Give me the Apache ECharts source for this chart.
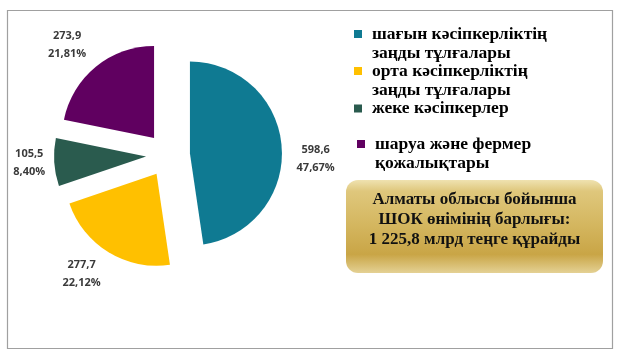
<!DOCTYPE html>
<html>
<head>
<meta charset="utf-8">
<script src="https://cdn.jsdelivr.net/npm/echarts@6/dist/echarts.min.js"></script>
<style>
html,body{margin:0;padding:0;background:#fff;}
#chart{width:622px;height:358px;}
</style>
</head>
<body>
<div id="chart"></div>
<script>
// ---- data ----
var categories = [
  'шағын кәсіпкерліктің\nзаңды тұлғалары',
  'орта кәсіпкерліктің\nзаңды тұлғалары',
  'жеке кәсіпкерлер',
  'шаруа және фермер\nқожалықтары'
];
var values = [598.6, 277.7, 105.5, 273.9];
var colors = ['#0f7a92', '#ffc000', '#2a5b4e', '#600060'];
var summaryText = 'Алматы облысы бойынша\nШОК өнімінің барлығы:\n1 225,8 млрд теңге құрайды';

// per-item label placement tuning (label line lengths, vertical nudge)
var labelTune = [
  {len: 8, len2: 7, dy: 13},
  {len: 25, len2: -5, dy: 0},
  {len: 5, len2: 1, dy: 0},
  {len: 28, len2: -8, dy: 0}
];

var chart = echarts.init(document.getElementById('chart'), null, {renderer: 'canvas'});

var pieData = categories.map(function (name, i) {
  return {
    name: name,
    value: values[i],
    selected: true,
    itemStyle: {color: colors[i]},
    labelLine: {length: labelTune[i].len, length2: labelTune[i].len2}
  };
});

// square marker (8px) with extra empty room: to the right (text gap) and,
// for two-line entries, below (so the square sits beside the first line)
var twoLineIcon = 'path://M0,0L8,0L8,8L0,8ZM0,27L13,27';
var oneLineIcon = 'path://M0,0L8,0L8,8L0,8ZM13,0L13,8';

function legendFor(i, top, left) {
  var twoLines = categories[i].indexOf('\n') >= 0;
  return {
    orient: 'vertical',
    left: left,
    top: top,
    padding: 0,
    icon: twoLines ? twoLineIcon : oneLineIcon,
    itemWidth: 13,
    itemHeight: twoLines ? 27 : 8,
    itemStyle: {borderWidth: 0},
    selectedMode: false,
    data: [categories[i]],
    textStyle: {
      fontFamily: 'Liberation Serif',
      fontWeight: 'bold',
      fontSize: 17.5,
      lineHeight: 19,
      color: '#000'
    }
  };
}

var labelFont = {
  fontFamily: 'Open Sans',
  fontWeight: 'bold',
  fontSize: 11,
  lineHeight: 18,
  color: '#3a3a3a',
  width: 38,
  align: 'center'
};

var option = {
  animation: false,
  backgroundColor: '#fff',
  legend: [
    legendFor(0, 24.5, 354),
    legendFor(1, 61.5, 354),
    legendFor(2, 99, 354),
    legendFor(3, 134.5, 357)
  ],
  graphic: [
    {
      type: 'rect',
      shape: {x: 7.5, y: 10.5, width: 605, height: 338},
      style: {fill: 'none', stroke: '#a0a0a0', lineWidth: 1.2},
      silent: true,
      z: -1
    },
    {
      type: 'rect',
      shape: {x: 346, y: 180, width: 257, height: 93, r: 12},
      style: {
        fill: new echarts.graphic.LinearGradient(0, 0, 0, 1, [
          {offset: 0, color: '#efe2b0'},
          {offset: 0.12, color: '#dfc77c'},
          {offset: 0.45, color: '#d5b862'},
          {offset: 0.8, color: '#c9a546'},
          {offset: 1, color: '#e4d194'}
        ])
      },
      silent: true
    },
    {
      type: 'text',
      x: 474.5,
      y: 220,
      style: {
        text: summaryText,
        align: 'center',
        verticalAlign: 'middle',
        fontFamily: 'Liberation Serif',
        fontWeight: 'bold',
        fontSize: 17,
        lineHeight: 20,
        fill: '#111'
      },
      silent: true
    }
  ],
  series: [{
    type: 'pie',
    center: [168, 155],
    radius: 92,
    startAngle: 90,
    clockwise: true,
    selectedMode: 'multiple',
    selectedOffset: 22,
    avoidLabelOverlap: false,
    emphasis: {disabled: true},
    itemStyle: {borderWidth: 0},
    label: {
      show: true,
      position: 'outside',
      distanceToLabelLine: 0,
      fontFamily: 'Open Sans',
      fontWeight: 'bold',
      fontSize: 11,
      lineHeight: 18,
      color: '#3a3a3a',
      rich: {a: labelFont},
      formatter: function (p) {
        return '{a|' + p.value.toFixed(1).replace('.', ',') + '}\n{a|' +
          p.percent.toFixed(2).replace('.', ',') + '%}';
      }
    },
    labelLine: {show: false},
    labelLayout: function (p) {
      return {dy: labelTune[p.dataIndex].dy};
    },
    data: pieData
  }]
};
chart.setOption(option);
</script>
</body>
</html>
